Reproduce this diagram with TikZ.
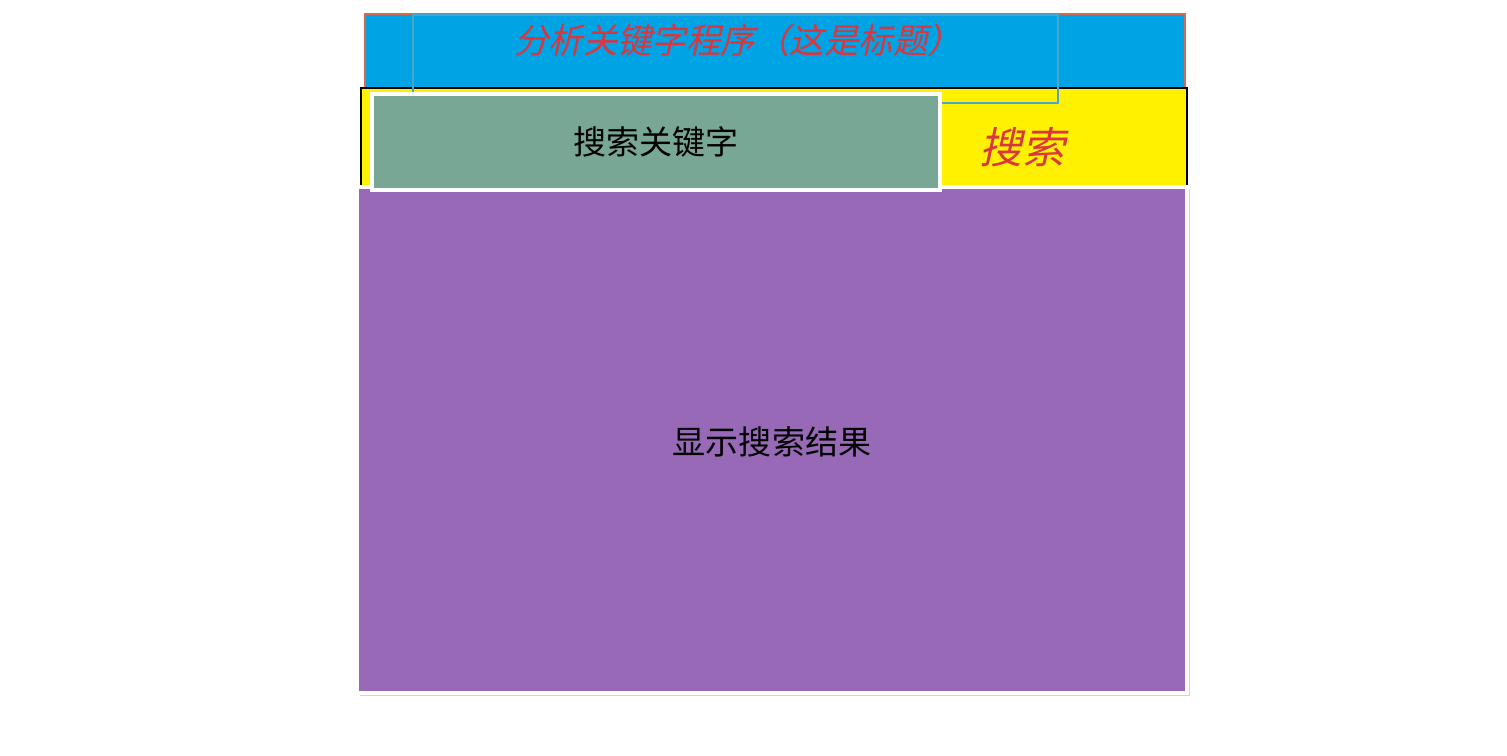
\documentclass[tikz,border=0pt]{standalone}
\usepackage{fontspec}
\setmainfont{Noto Sans CJK SC}
\newfontfamily\cjkslant[FakeSlant=0.22]{Noto Sans CJK SC}
\usepackage{tikz}
\usetikzlibrary{shadows}
\definecolor{titleblue}{HTML}{00A3E4}
\definecolor{titleedge}{HTML}{D46A52}
\definecolor{frameblue}{HTML}{4BA6CC}
\definecolor{searchyellow}{HTML}{FFF100}
\definecolor{keygreen}{HTML}{79A795}
\definecolor{resultpurple}{HTML}{9869B6}
\definecolor{titlered}{HTML}{D9363E}

\begin{document}
\begin{tikzpicture}[
    x=1cm, y=1cm,
    panel/.style={rectangle, inner sep=0pt, outer sep=0pt, line width=0.6pt},
    titlebar/.style={panel, draw=titleedge, fill=titleblue, minimum width=8.20cm, minimum height=0.74cm},
    textframe/.style={panel, draw=frameblue, line width=0.5pt, minimum width=6.45cm, minimum height=0.88cm},
    searchbar/.style={panel, draw=black, line width=0.8pt, fill=searchyellow, minimum width=8.26cm, minimum height=0.99cm},
    keybox/.style={panel, draw=white, line width=1.2pt, fill=keygreen, minimum width=5.68cm, minimum height=0.96cm},
    resultbox/.style={panel, draw=white, line width=1.2pt, fill=resultpurple, minimum width=8.30cm, minimum height=5.06cm,
        drop shadow={opacity=0.35, shadow xshift=0.3mm, shadow yshift=-0.3mm}},
    redlabel/.style={text=titlered, inner sep=0pt},
    blacklabel/.style={text=black, inner sep=0pt}
]
\useasboundingbox (0,0) rectangle (15.07,-7.55);

\node[titlebar] (title) at (7.75,-0.51) {};
\node[searchbar] (search) at (7.74,-1.375) {};
\node[textframe] (frame) at (7.355,-0.59) {};
\node[resultbox] (result) at (7.72,-4.40) {};
\node[keybox] (keyword) at (6.56,-1.42) {};

\node[redlabel] (titletext) at (7.38,-0.40) {\cjkslant\fontsize{9.8pt}{12pt}\selectfont 分析关键字程序（这是标题）};
\node[blacklabel] (keytext) at (keyword.center) {\fontsize{9.4pt}{11pt}\selectfont 搜索关键字};
\node[redlabel] (searchtext) at (10.22,-1.47) {\cjkslant\fontsize{12.2pt}{14pt}\selectfont 搜索};
\node[blacklabel] (resulttext) at (7.72,-4.42) {\fontsize{9.4pt}{11pt}\selectfont 显示搜索结果};
\end{tikzpicture}
\end{document}
